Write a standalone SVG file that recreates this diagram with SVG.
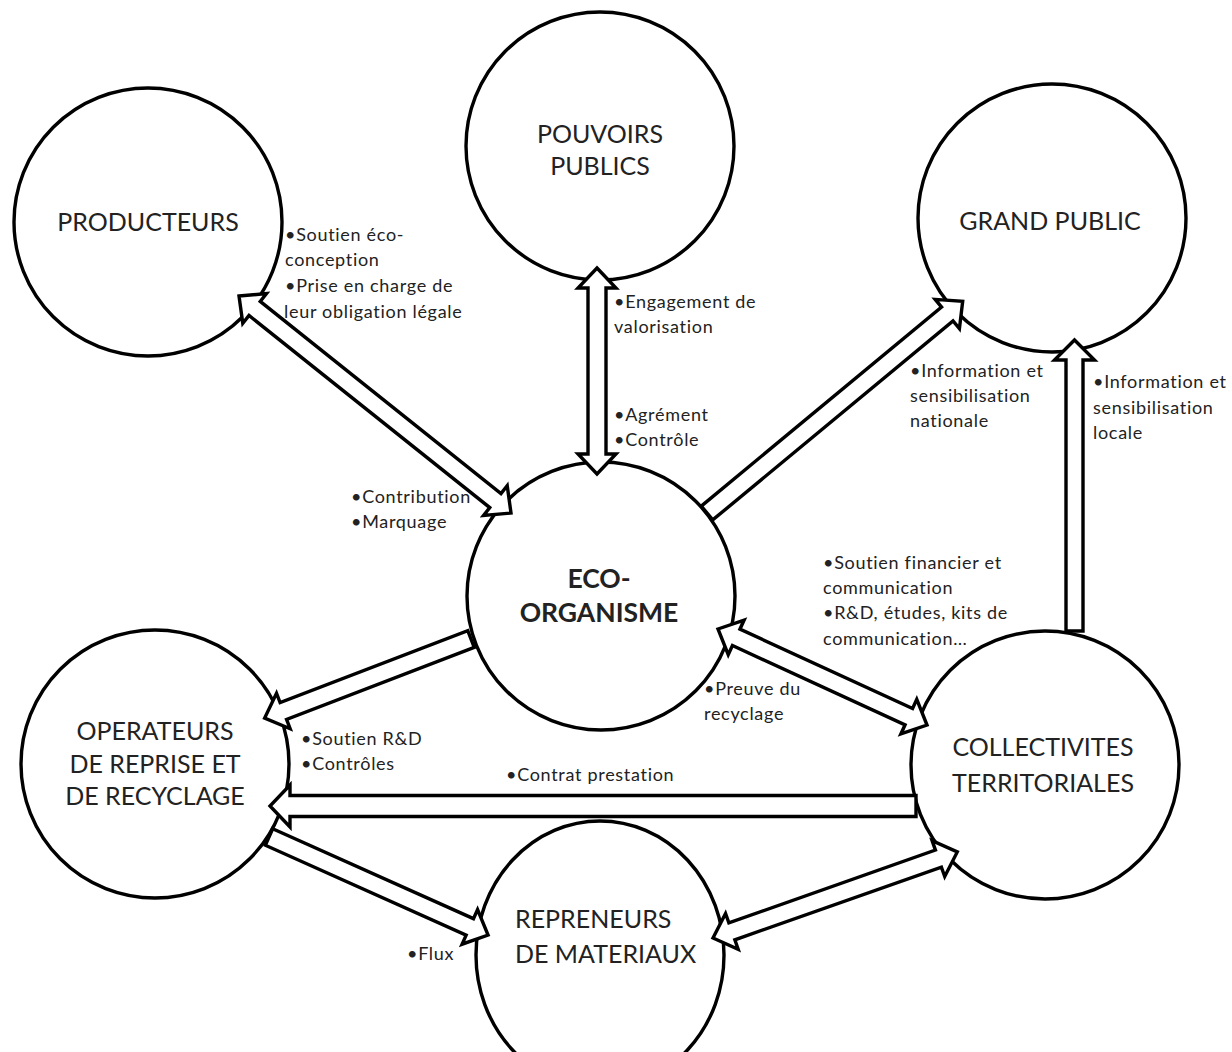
<svg xmlns="http://www.w3.org/2000/svg" width="1232" height="1052" viewBox="0 0 1232 1052">
<style>
.node{fill:#fff;stroke:#000;stroke-width:3.4}
.title{font-family:Lato,"Liberation Sans",sans-serif;font-size:25px;fill:#222;text-anchor:middle}
.bold{font-weight:bold;font-size:26.5px}
.left{text-anchor:start}
.lbl{font-family:Lato,"Liberation Sans",sans-serif;font-size:18px;letter-spacing:0.7px;fill:#222}
.arr{fill:#fff;stroke:#000;stroke-width:3.4;stroke-linejoin:miter}
</style>
<rect width="1232" height="1052" fill="#fff"/>
<g id="nodes">
<g id="producteurs"><circle class="node" cx="148" cy="222" r="134"/><text class="title" x="148" y="231">PRODUCTEURS</text></g>
<g id="pouvoirs-publics"><circle class="node" cx="600" cy="146" r="134"/><text class="title" x="600" y="143">POUVOIRS</text><text class="title" x="600" y="175">PUBLICS</text></g>
<g id="grand-public"><circle class="node" cx="1052" cy="218" r="134"/><text class="title" x="1050" y="230">GRAND PUBLIC</text></g>
<g id="eco-organisme"><circle class="node" cx="601" cy="596" r="134"/><text class="title bold" x="599" y="588">ECO-</text><text class="title bold" x="599" y="622">ORGANISME</text></g>
<g id="operateurs"><circle class="node" cx="155" cy="764" r="134"/><text class="title" x="155" y="740">OPERATEURS</text><text class="title" x="155" y="773">DE REPRISE ET</text><text class="title" x="155" y="805">DE RECYCLAGE</text></g>
<g id="collectivites"><circle class="node" cx="1045" cy="765" r="134"/><text class="title" x="1043" y="756">COLLECTIVITES</text><text class="title" x="1043" y="792">TERRITORIALES</text></g>
<g id="repreneurs"><ellipse class="node" cx="600" cy="955" rx="124" ry="134"/><text class="title left" x="515" y="928">REPRENEURS</text><text class="title left" x="515" y="963">DE MATERIAUX</text></g>
</g>
<g id="connectors">
<polygon class="arr" transform="translate(239,296) rotate(38.59)" points="0,0 20,-19 20,-9 328,-9 328,-19 348,0 328,19 328,9 20,9 20,19"/>
<polygon class="arr" transform="translate(597,268) rotate(90)" points="0,0 20,-19 20,-9 186,-9 186,-19 206,0 186,19 186,9 20,9 20,19"/>
<polygon class="arr" transform="translate(707,513) rotate(-39.63)" points="0,-9 312,-9 312,-19 332,0 312,19 312,9 0,9"/>
<polygon class="arr" transform="translate(1074.5,631) rotate(-90)" points="0,-8.5 271,-8.5 271,-20 291,0 271,20 271,8.5 0,8.5"/>
<polygon class="arr" transform="translate(718,629) rotate(24.67)" points="0,0 20,-19 20,-9 210,-9 210,-19 230,0 210,19 210,9 20,9 20,19"/>
<polygon class="arr" transform="translate(471,639) rotate(159.02)" points="0,-9 201,-9 201,-19 221,0 201,19 201,9 0,9"/>
<polygon class="arr" transform="translate(916,806) rotate(180)" points="0,-10.5 626,-10.5 626,-21 646,0 626,21 626,10.5 0,10.5"/>
<polygon class="arr" transform="translate(269,837) rotate(24.11)" points="0,-9 220,-9 220,-19 240,0 220,19 220,9 0,9"/>
<polygon class="arr" transform="translate(713,938) rotate(-19.41)" points="0,0 20,-19 20,-9 239,-9 239,-19 259,0 239,19 239,9 20,9 20,19"/>
</g>
<g id="labels" class="lbl">
<text x="285" y="241">•Soutien éco-</text>
<text x="285" y="266">conception</text>
<text x="285" y="292">•Prise en charge de</text>
<text x="284" y="318">leur obligation légale</text>
<text x="614" y="308">•Engagement de</text>
<text x="614" y="333">valorisation</text>
<text x="614" y="421">•Agrément</text>
<text x="614" y="446">•Contrôle</text>
<text x="351" y="503">•Contribution</text>
<text x="351" y="528">•Marquage</text>
<text x="910" y="377">•Information et</text>
<text x="910" y="402">sensibilisation</text>
<text x="910" y="427">nationale</text>
<text x="1093" y="388">•Information et</text>
<text x="1093" y="414">sensibilisation</text>
<text x="1093" y="439">locale</text>
<text x="823" y="569">•Soutien financier et</text>
<text x="823" y="594">communication</text>
<text x="823" y="619">•R&amp;D, études, kits de</text>
<text x="823" y="645">communication…</text>
<text x="704" y="695">•Preuve du</text>
<text x="704" y="720">recyclage</text>
<text x="301" y="745">•Soutien R&amp;D</text>
<text x="301" y="770">•Contrôles</text>
<text x="506" y="781">•Contrat prestation</text>
<text x="407" y="960">•Flux</text>
</g>
</svg>
